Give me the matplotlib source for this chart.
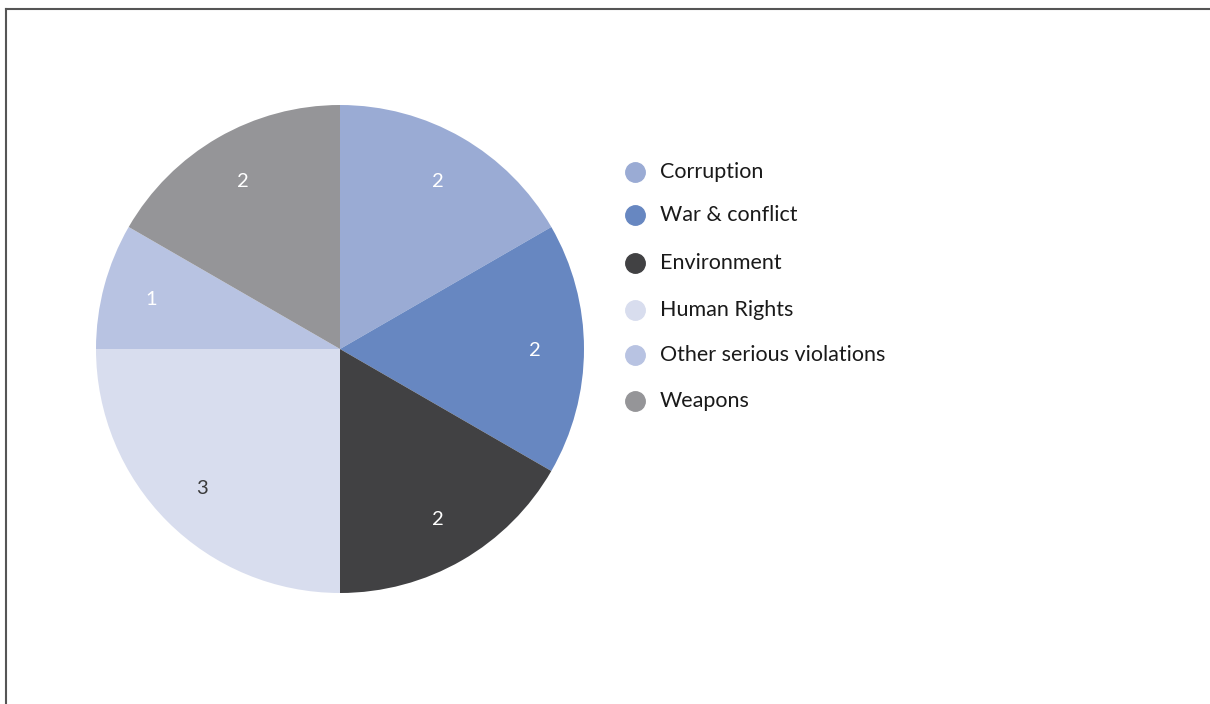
import matplotlib.pyplot as plt
from matplotlib.lines import Line2D

categories = ['Corruption', 'War & conflict', 'Environment', 'Human Rights',
              'Other serious violations', 'Weapons']
counts = [2, 2, 2, 3, 1, 2]
colors = ['#9aabd4', '#6787c1', '#414143', '#d8ddee', '#b8c3e2', '#959598']
label_colors = ['white', 'white', 'white', '#3a3a3a', 'white', 'white']

plt.rcParams['font.family'] = ['Lato', 'DejaVu Sans']

W, H = 1210, 704
fig = plt.figure(figsize=(W / 100, H / 100), dpi=100)

# pie centred at (340, 349) px with radius 244 px
cx, cy, r = 340, 349, 244
ax = fig.add_axes([(cx - r) / W, (H - cy - r) / H, 2 * r / W, 2 * r / H])
wedges, texts = ax.pie(counts, colors=colors, startangle=90, counterclock=False,
                       labels=[str(c) for c in counts], labeldistance=0.8,
                       textprops={'fontsize': 14.5, 'ha': 'center',
                                  'va': 'center_baseline'})
for t, c in zip(texts, label_colors):
    t.set_color(c)
ax.set_xlim(-1, 1)
ax.set_ylim(-1, 1)
ax.set_aspect('equal')
ax.axis('off')

# legend drawn by hand (row positions in px from the top)
rows_y = [172, 215, 263, 310, 355, 401]
for y_px, name, col in zip(rows_y, categories, colors):
    y = 1 - y_px / H
    fig.add_artist(Line2D([635 / W], [y], marker='o', markersize=14,
                          markerfacecolor=col, markeredgecolor=col, linestyle='none'))
    fig.text(660 / W, y, name, fontsize=15.5, color='#1a1a1a', va='center', ha='left')

# frame on left and top
fig.add_artist(Line2D([6 / W, 6 / W], [0, 1 - 8.5 / H], color='#555555', linewidth=1.5))
fig.add_artist(Line2D([6 / W, 1], [1 - 8.5 / H, 1 - 8.5 / H], color='#555555', linewidth=1.5))

fig.savefig('out.png', dpi=100)
